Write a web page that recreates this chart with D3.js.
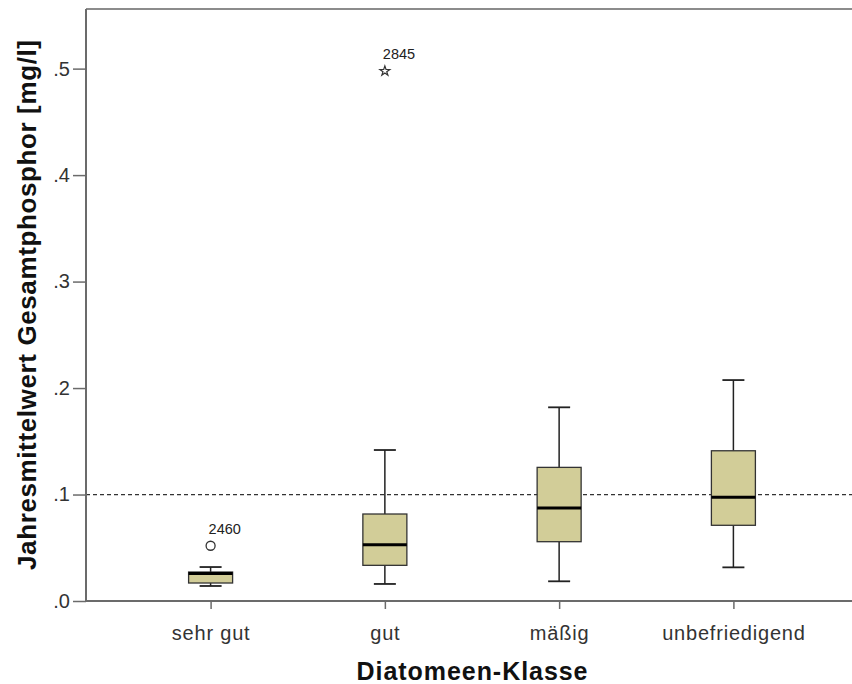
<!DOCTYPE html>
<html>
<head>
<meta charset="utf-8">
<script src="https://cdn.jsdelivr.net/npm/d3@7"></script>
<style>
  html, body { margin: 0; padding: 0; background: #fff; }
  svg { display: block; font-family: "Liberation Sans", Arial, sans-serif; }
</style>
</head>
<body>
<svg id="chart" width="852" height="684"></svg>
<script>
// Diatom classes and annual mean total phosphorus summaries
const categories = ["sehr gut", "gut", "mäßig", "unbefriedigend"];
const whiskerLow  = [0.0141, 0.0160, 0.0185, 0.0316];
const q1          = [0.0169, 0.0335, 0.0557, 0.0711];
const median      = [0.0258, 0.0529, 0.0873, 0.0974];
const q3          = [0.0272, 0.0817, 0.1255, 0.1411];
const whiskerHigh = [0.0319, 0.1418, 0.1819, 0.2075];

// Individual outliers: category, value, case label, kind (circle / extreme star)
const outlierCat   = ["sehr gut", "gut"];
const outlierValue = [0.0519, 0.4977];
const outlierLabel = ["2460", "2845"];
const outlierKind  = ["circle", "star"];

const yTicks = [0, 0.1, 0.2, 0.3, 0.4, 0.5];
const referenceValue = 0.1;

const svg = d3.select("#chart");
const margin = { left: 86, top: 9, right: 0, bottom: 83 };
const W = 852, H = 684;
const plotBottom = H - margin.bottom;

const y = d3.scaleLinear().domain([0, 0.556]).range([plotBottom, margin.top]);
const x = d3.scalePoint().domain(categories).range([margin.left, 858]).padding(0.715);

const axisColor = "#6b6b6b";

// frame top line
svg.append("line")
  .attr("x1", margin.left).attr("x2", W)
  .attr("y1", margin.top).attr("y2", margin.top)
  .attr("stroke", "#8c8c8c").attr("stroke-width", 2);

// reference line at 0.1
svg.append("line")
  .attr("x1", margin.left).attr("x2", W)
  .attr("y1", y(referenceValue)).attr("y2", y(referenceValue))
  .attr("stroke", "#333").attr("stroke-width", 1.3)
  .attr("stroke-dasharray", "4,3");

const boxW = 44, capW = 22;
const rows = categories.map((c, i) => ({
  c, lo: whiskerLow[i], q1: q1[i], med: median[i], q3: q3[i], hi: whiskerHigh[i]
}));

const g = svg.append("g");
const box = g.selectAll("g.box").data(rows).join("g").attr("class", "box");

// whiskers
box.append("line")
  .attr("x1", d => x(d.c)).attr("x2", d => x(d.c))
  .attr("y1", d => y(d.hi)).attr("y2", d => y(d.q3))
  .attr("stroke", "#222").attr("stroke-width", 1.5);
box.append("line")
  .attr("x1", d => x(d.c)).attr("x2", d => x(d.c))
  .attr("y1", d => y(d.q1)).attr("y2", d => y(d.lo))
  .attr("stroke", "#222").attr("stroke-width", 1.5);
// caps
box.selectAll("line.cap").data(d => [[d.c, d.hi], [d.c, d.lo]]).join("line")
  .attr("class", "cap")
  .attr("x1", d => x(d[0]) - capW / 2).attr("x2", d => x(d[0]) + capW / 2)
  .attr("y1", d => y(d[1])).attr("y2", d => y(d[1]))
  .attr("stroke", "#222").attr("stroke-width", 1.8);
// boxes
box.append("rect")
  .attr("x", d => x(d.c) - boxW / 2).attr("width", boxW)
  .attr("y", d => y(d.q3)).attr("height", d => y(d.q1) - y(d.q3))
  .attr("fill", "#d2cd98").attr("stroke", "#333").attr("stroke-width", 1.3);
// medians
box.append("line")
  .attr("x1", d => x(d.c) - boxW / 2).attr("x2", d => x(d.c) + boxW / 2)
  .attr("y1", d => y(d.med)).attr("y2", d => y(d.med))
  .attr("stroke", "#000").attr("stroke-width", 3);

// outliers
outlierCat.forEach((c, i) => {
  const cx = x(c), cy = y(outlierValue[i]);
  if (outlierKind[i] === "circle") {
    svg.append("circle").attr("cx", cx).attr("cy", cy).attr("r", 4.5)
      .attr("fill", "none").attr("stroke", "#333").attr("stroke-width", 1.3);
  } else {
    svg.append("path")
      .attr("d", d3.symbol().type(d3.symbolStar).size(30)())
      .attr("transform", `translate(${cx},${cy})`)
      .attr("fill", "none").attr("stroke", "#333").attr("stroke-width", 1.2);
  }
  svg.append("text")
    .attr("x", cx - 2).attr("y", cy - 12)
    .attr("font-size", 14.5).attr("fill", "#222")
    .text(outlierLabel[i]);
});

// y axis
const yAxis = svg.append("g")
  .attr("transform", `translate(${margin.left},0)`)
  .call(d3.axisLeft(y).tickValues(yTicks).tickSize(13).tickPadding(3)
    .tickFormat(d => d3.format(".1f")(d).replace(/^0/, "")));
yAxis.select(".domain").attr("stroke", axisColor).attr("stroke-width", 2)
  .attr("d", `M0,${margin.top}V${plotBottom}`);
yAxis.selectAll(".tick line").attr("stroke", axisColor).attr("stroke-width", 1.5);
yAxis.selectAll(".tick text").attr("font-size", 20).attr("fill", "#333")
  .attr("font-family", "'Liberation Sans', Arial, sans-serif");

// x axis
const xAxis = svg.append("g")
  .attr("transform", `translate(0,${plotBottom})`)
  .call(d3.axisBottom(x).tickSize(8).tickPadding(17));
xAxis.select(".domain").attr("stroke", axisColor).attr("stroke-width", 2)
  .attr("d", `M${margin.left},0H${W}`);
xAxis.selectAll(".tick line").attr("stroke", axisColor).attr("stroke-width", 1.5);
xAxis.selectAll(".tick text").attr("font-size", 20).attr("fill", "#333")
  .attr("letter-spacing", "0.8px")
  .attr("font-family", "'Liberation Sans', Arial, sans-serif");

// axis titles
svg.append("text")
  .attr("x", (margin.left + W) / 2 + 3).attr("y", 680)
  .attr("text-anchor", "middle")
  .attr("font-size", 25).attr("font-weight", "bold").attr("fill", "#111")
  .attr("textLength", 231).attr("lengthAdjust", "spacing")
  .text("Diatomeen-Klasse");
svg.append("text")
  .attr("transform", `translate(36,${(margin.top + plotBottom) / 2}) rotate(-90)`)
  .attr("text-anchor", "middle")
  .attr("font-size", 26).attr("font-weight", "bold").attr("fill", "#111")
  .attr("textLength", 530).attr("lengthAdjust", "spacing")
  .text("Jahresmittelwert Gesamtphosphor [mg/l]");
</script>
</body>
</html>
